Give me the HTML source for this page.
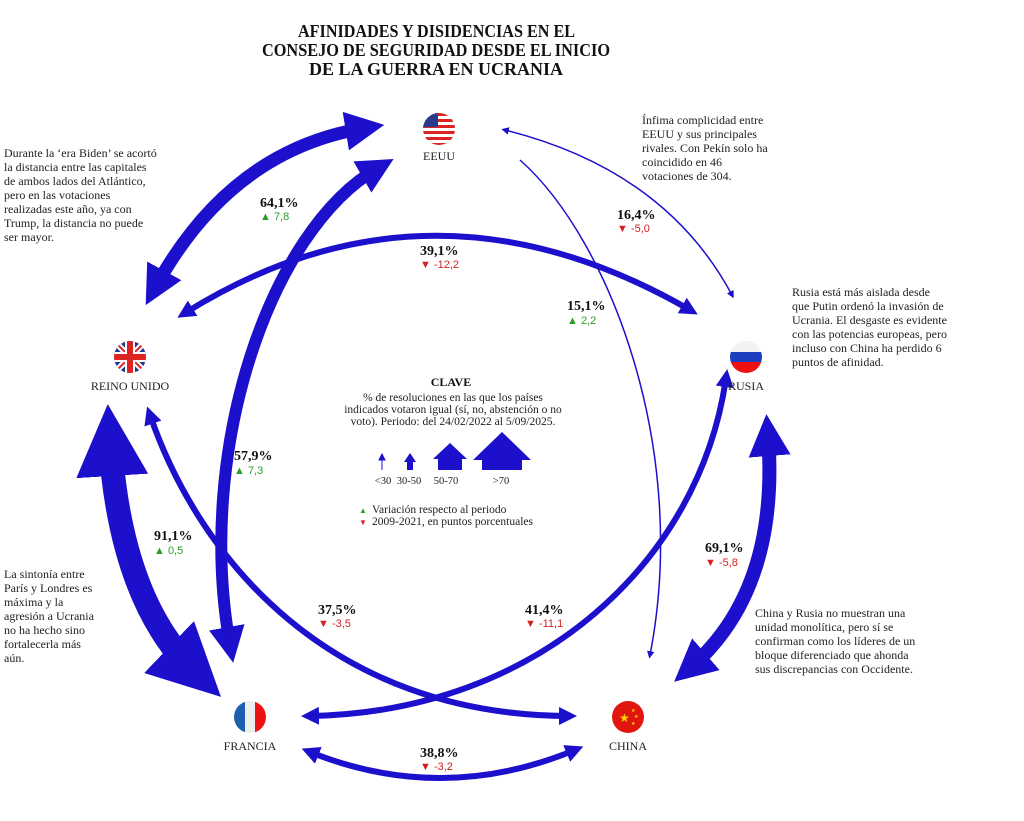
<!DOCTYPE html>
<html><head><meta charset="utf-8"><style>
body{margin:0;background:#fff}
svg{display:block}
.t{font-family:"Liberation Serif",serif;fill:#222}
.b{font-family:"Liberation Serif",serif;font-weight:bold;fill:#111}
.g{font-family:"Liberation Sans",sans-serif;fill:#2a9d2a;font-size:11px}
.r{font-family:"Liberation Sans",sans-serif;fill:#d42020;font-size:11px}
</style></head><body>
<svg width="1024" height="821" viewBox="0 0 1024 821" xmlns="http://www.w3.org/2000/svg">
<defs>
<marker id="a" viewBox="0 0 10 10" refX="5" refY="5" markerWidth="3" markerHeight="3" orient="auto-start-reverse" markerUnits="strokeWidth">
<path d="M0,0 L10,5 L0,10 Z" fill="#1c10cc"/></marker>
<marker id="s" viewBox="0 0 10 10" refX="5" refY="5" markerWidth="5" markerHeight="5" orient="auto-start-reverse" markerUnits="strokeWidth">
<path d="M0,0 L10,5 L0,10 Z" fill="#1c10cc"/></marker>
</defs>
<g fill="none" stroke="#1c10cc" stroke-linecap="butt">
<path d="M365,128 Q230,150 155,288" stroke-width="13" marker-start="url(#a)" marker-end="url(#a)"/>
<path d="M378,168 C270,230 195,450 230,645" stroke-width="12" marker-start="url(#a)" marker-end="url(#a)"/>
<path d="M185,313 Q430,160 690,310" stroke-width="6" marker-start="url(#a)" marker-end="url(#a)"/>
<path d="M505,130 Q665,170 732,295" stroke-width="1.5" marker-start="url(#s)" marker-end="url(#s)"/>
<path d="M520,160 C610,240 690,450 650,655" stroke-width="1.5" marker-end="url(#s)"/>
<path d="M110,440 Q120,600 195,672" stroke-width="24" marker-start="url(#a)" marker-end="url(#a)"/>
<path d="M150,415 C200,560 330,715 568,716" stroke-width="6" marker-start="url(#a)" marker-end="url(#a)"/>
<path d="M726,378 C700,560 540,712 310,716" stroke-width="6" marker-start="url(#a)" marker-end="url(#a)"/>
<path d="M768,435 Q780,590 690,668" stroke-width="14" marker-start="url(#a)" marker-end="url(#a)"/>
<path d="M310,752 Q442,805 575,750" stroke-width="6" marker-start="url(#a)" marker-end="url(#a)"/>
</g>
<!-- flags -->
<clipPath id="c1"><circle cx="439" cy="129" r="16"/></clipPath>
<g clip-path="url(#c1)"><rect x="423" y="113" width="32" height="32" fill="#fff"/>
<g fill="#d22"><rect x="423" y="113" width="32" height="3"/><rect x="423" y="119" width="32" height="3"/><rect x="423" y="125" width="32" height="3"/><rect x="423" y="131" width="32" height="3"/><rect x="423" y="137" width="32" height="3"/><rect x="423" y="143" width="32" height="3"/></g>
<rect x="423" y="113" width="15" height="14" fill="#2a3a8c"/></g>
<clipPath id="c2"><circle cx="130" cy="357" r="16"/></clipPath>
<g clip-path="url(#c2)"><rect x="114" y="341" width="32" height="32" fill="#1f3a8a"/>
<path d="M114,341 L146,373 M146,341 L114,373" stroke="#fff" stroke-width="6"/><path d="M114,341 L146,373 M146,341 L114,373" stroke="#d22" stroke-width="2"/>
<rect x="114" y="352" width="32" height="10" fill="#fff"/><rect x="125" y="341" width="10" height="32" fill="#fff"/>
<rect x="114" y="354" width="32" height="6" fill="#d22"/><rect x="127" y="341" width="6" height="32" fill="#d22"/></g>
<clipPath id="c3"><circle cx="746" cy="357" r="16"/></clipPath>
<g clip-path="url(#c3)"><rect x="730" y="341" width="32" height="11" fill="#f2f2f2"/><rect x="730" y="352" width="32" height="10" fill="#1c3fc0"/><rect x="730" y="362" width="32" height="12" fill="#e11"/></g>
<clipPath id="c4"><circle cx="250" cy="717" r="16"/></clipPath>
<g clip-path="url(#c4)"><rect x="234" y="701" width="11" height="32" fill="#1f5fb0"/><rect x="245" y="701" width="10" height="32" fill="#eee"/><rect x="255" y="701" width="11" height="32" fill="#e11"/></g>
<circle cx="628" cy="717" r="16" fill="#e0160e"/><text x="619" y="722" font-size="12" fill="#ffd800">★</text>
<text x="631" y="712" font-size="5" fill="#ffd800">★</text><text x="634" y="718" font-size="5" fill="#ffd800">★</text><text x="631" y="725" font-size="5" fill="#ffd800">★</text>
<!-- title -->
<g class="b" font-size="18"><text x="298" y="37" textLength="277" lengthAdjust="spacingAndGlyphs">AFINIDADES Y DISIDENCIAS EN EL</text><text x="262" y="56" textLength="348" lengthAdjust="spacingAndGlyphs">CONSEJO DE SEGURIDAD DESDE EL INICIO</text><text x="309" y="75" textLength="254" lengthAdjust="spacingAndGlyphs">DE LA GUERRA EN UCRANIA</text></g>
<g class="t" font-size="12" text-anchor="middle"><text x="439" y="160">EEUU</text><text x="130" y="390">REINO UNIDO</text><text x="746" y="390">RUSIA</text><text x="250" y="750">FRANCIA</text><text x="628" y="750">CHINA</text></g>
<!-- notes -->
<g class="t" font-size="12"><text x="4" y="157">Durante la ‘era Biden’ se acortó</text><text x="4" y="171">la distancia entre las capitales</text><text x="4" y="185">de ambos lados del Atlántico,</text><text x="4" y="199">pero en las votaciones</text><text x="4" y="213">realizadas este año, ya con</text><text x="4" y="227">Trump, la distancia no puede</text><text x="4" y="241">ser mayor.</text></g>
<g class="t" font-size="12"><text x="642" y="124">Ínfima complicidad entre</text><text x="642" y="138">EEUU y sus principales</text><text x="642" y="152">rivales. Con Pekín solo ha</text><text x="642" y="166">coincidido en 46</text><text x="642" y="180">votaciones de 304.</text></g>
<g class="t" font-size="12"><text x="792" y="296">Rusia está más aislada desde</text><text x="792" y="310">que Putin ordenó la invasión de</text><text x="792" y="324">Ucrania. El desgaste es evidente</text><text x="792" y="338">con las potencias europeas, pero</text><text x="792" y="352">incluso con China ha perdido 6</text><text x="792" y="366">puntos de afinidad.</text></g>
<g class="t" font-size="12"><text x="4" y="578">La sintonía entre</text><text x="4" y="592">París y Londres es</text><text x="4" y="606">máxima y la</text><text x="4" y="620">agresión a Ucrania</text><text x="4" y="634">no ha hecho sino</text><text x="4" y="648">fortalecerla más</text><text x="4" y="662">aún.</text></g>
<g class="t" font-size="12"><text x="755" y="617">China y Rusia no muestran una</text><text x="755" y="631">unidad monolítica, pero sí se</text><text x="755" y="645">confirman como los líderes de un</text><text x="755" y="659">bloque diferenciado que ahonda</text><text x="755" y="673">sus discrepancias con Occidente.</text></g>
<!-- values -->
<g class="b" font-size="14">
<text x="260" y="207">64,1%</text><text x="420" y="255">39,1%</text><text x="617" y="219">16,4%</text><text x="567" y="310">15,1%</text>
<text x="234" y="460">57,9%</text><text x="154" y="540">91,1%</text><text x="705" y="552">69,1%</text>
<text x="318" y="614">37,5%</text><text x="525" y="614">41,4%</text><text x="420" y="757">38,8%</text></g>
<text class="g" x="260" y="220">▲ 7,8</text><text class="r" x="420" y="268">▼ -12,2</text><text class="r" x="617" y="232">▼ -5,0</text><text class="g" x="567" y="324">▲ 2,2</text>
<text class="g" x="234" y="474">▲ 7,3</text><text class="g" x="154" y="554">▲ 0,5</text><text class="r" x="705" y="555" dy="11">▼ -5,8</text>
<text class="r" x="318" y="627">▼ -3,5</text><text class="r" x="525" y="627">▼ -11,1</text><text class="r" x="420" y="770">▼ -3,2</text>
<!-- legend -->
<text class="b" font-size="12" x="451" y="386" text-anchor="middle">CLAVE</text>
<g class="t" font-size="11.5" text-anchor="middle"><text x="453" y="401">% de resoluciones en las que los países</text><text x="453" y="413">indicados votaron igual (sí, no, abstención o no</text><text x="453" y="425">voto). Periodo: del 24/02/2022 al 5/09/2025.</text></g>
<g fill="#1c10cc"><path d="M382,470 V458 M379,460 L382,454 L385,460 Z" stroke="#1c10cc" stroke-width="1"/>
<path d="M407,470 V462 H404 L410,453 L416,462 H413 V470 Z"/>
<path d="M438,470 V459 H433 L450,443 L467,459 H462 V470 Z"/>
<path d="M482,470 V460 H473 L502,432 L531,460 H522 V470 Z"/></g>
<g class="t" font-size="10.5" text-anchor="middle"><text x="383" y="484">&lt;30</text><text x="409" y="484">30-50</text><text x="446" y="484">50-70</text><text x="501" y="484">&gt;70</text></g>
<text x="359" y="513" font-size="8" fill="#2a9d2a">▲</text><text x="359" y="525" font-size="8" fill="#d42020">▼</text>
<g class="t" font-size="11.5"><text x="372" y="513">Variación respecto al periodo</text><text x="372" y="525">2009-2021, en puntos porcentuales</text></g>
</svg>
</body></html>
